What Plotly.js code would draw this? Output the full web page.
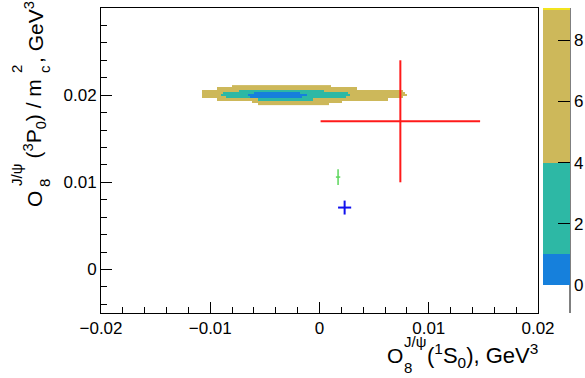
<!DOCTYPE html>
<html><head><meta charset="utf-8">
<script src="https://cdn.plot.ly/plotly-3.0.1.min.js"></script>
<style>html,body{margin:0;padding:0;background:#fff}#chart{width:585px;height:378px}</style>
</head><body><div id="chart"></div>
<script>
// ---- contour map: y-bin centres and x extents of each filled level ----
const rowY     = [0.021025, 0.020775, 0.020525, 0.020275, 0.020025, 0.019775, 0.019525, 0.019275, 0.019025];
const outerLo  = [-0.0080, -0.0093, -0.0108, -0.0108, -0.0108, -0.0108, -0.0093, -0.0062, -0.0055];
const outerHi  = [ 0.0011,  0.0034,  0.0076,  0.0078,  0.0080,  0.0076,  0.0062,  0.0021,  0.0009];
const midLo    = [null, null, -0.0073, -0.0088, -0.0090, -0.0086, -0.0055, null, null];
const midHi    = [null, null,  0.0003,  0.0026,  0.0028,  0.0023, -0.0006, null, null];
const innerLo  = [null, null, null, -0.0059, -0.0066, -0.0063, null, null, null];
const innerHi  = [null, null, null, -0.0018, -0.0012, -0.0016, null, null, null];
const xBinStart = -0.0112, xBinWidth = 0.0002, xBinCount = 100;
const levelZ = {inner: 0.5, mid: 2.5, outer: 6.5};
const zMin = 0, zMax = 9.05;
const levelEdges = [1, 4, 9];

// ---- measured points with errors ----
const ptX  = [0.0074, 0.0017, 0.0023];
const ptY  = [0.0170, 0.0106, 0.0071];
const ptEX = [0.0073, 0.0002, 0.0006];
const ptEY = [0.0070, 0.0009, 0.0008];
const ptColor = ['#ff1a1a', '#5cd65c', '#1010ee'];
const ptWidth = [2, 1.5, 2];

// ---- axis ticks ----
const xTicks = [-0.02, -0.01, 0, 0.01, 0.02];
const xTickText = ['\u22120.02', '\u22120.01', '0', '0.01', '0.02'];
const yTicks = [0, 0.01, 0.02, 0.03];
const yTickText = ['0', '0.01', '0.02', '0.03'];
const zTicks = [0, 2, 4, 6, 8];

const FONT = 'Liberation Sans, Arial, Helvetica, sans-serif';
const L = 101, R = 538, T = 8, B = 313;
const px2x = px => (px - L) / (R - L);
const py2y = py => (B - py) / (B - T);

const xc = [];
for (let i = 0; i < xBinCount; i++) xc.push(xBinStart + (i + 0.5) * xBinWidth);
const z = rowY.map((_, r) => xc.map(x => {
  if (innerLo[r] !== null && x >= innerLo[r] && x <= innerHi[r]) return levelZ.inner;
  if (midLo[r] !== null && x >= midLo[r] && x <= midHi[r]) return levelZ.mid;
  if (x >= outerLo[r] && x <= outerHi[r]) return levelZ.outer;
  return null;
}));
const t = v => (v - zMin) / (zMax - zMin);
const cBlue = '#1680dc', cTeal = '#2db8a5', cKhaki = '#cdb85a', cYellow = '#f2e41e';
const colorscale = [
  [0, cBlue], [t(levelEdges[0]), cBlue], [t(levelEdges[0]), cTeal], [t(levelEdges[1]), cTeal],
  [t(levelEdges[1]), cKhaki], [t(levelEdges[2]), cKhaki], [t(levelEdges[2]), cYellow], [1, cYellow]
];

const traces = [{
  type: 'heatmap', x: xc, y: rowY, z: z, zmin: zMin, zmax: zMax, zsmooth: false,
  colorscale: colorscale, hoverinfo: 'skip', showscale: true,
  colorbar: {
    x: px2x(543), xanchor: 'left', xref: 'paper', y: 1, yanchor: 'top',
    len: 277, lenmode: 'pixels', thickness: 27, thicknessmode: 'pixels',
    xpad: 0, ypad: 0, outlinewidth: 0, tickvals: zTicks, ticks: 'inside',
    ticklen: 12, tickwidth: 1, tickcolor: '#000',
    tickfont: {family: FONT, size: 17, color: '#000'}
  }
}];
for (let i = 0; i < ptX.length; i++) {
  traces.push({
    type: 'scatter', mode: 'markers', x: [ptX[i]], y: [ptY[i]],
    marker: {size: 1, color: ptColor[i], opacity: 0}, hoverinfo: 'skip', showlegend: false,
    error_x: {type: 'data', array: [ptEX[i]], width: 0, thickness: ptWidth[i], color: ptColor[i]},
    error_y: {type: 'data', array: [ptEY[i]], width: 0, thickness: ptWidth[i], color: ptColor[i]}
  });
}

const ann = (text, x, y, o) => Object.assign({
  text: text, x: x, y: y, xref: 'paper', yref: 'paper', showarrow: false,
  borderpad: 0, font: {family: FONT, size: 21, color: '#000'}
}, o || {});
const small = {family: FONT, size: 15, color: '#000'};
const big = {family: FONT, size: 22, color: '#000'};

const annotations = [
  // x-axis title
  ann('O', px2x(386), py2y(355.5), {xanchor: 'left', yanchor: 'middle'}),
  ann('J/\u03c8', px2x(403), py2y(341), {xanchor: 'left', yanchor: 'middle', font: small}),
  ann('8', px2x(403), py2y(367), {xanchor: 'left', yanchor: 'middle', font: small}),
  ann('(<sup>1</sup>S<sub>0</sub>), GeV<sup>3</sup>', px2x(426), py2y(355.5), {xanchor: 'left', yanchor: 'middle', font: big}),
  // y-axis title (rotated)
  ann('O', px2x(34), py2y(208), {xanchor: 'center', yanchor: 'bottom', textangle: -90}),
  ann('J/\u03c8', px2x(16), py2y(187), {xanchor: 'center', yanchor: 'bottom', textangle: -90, font: small}),
  ann('8', px2x(44), py2y(188), {xanchor: 'center', yanchor: 'bottom', textangle: -90, font: small}),
  ann('(<sup>3</sup>P<sub>0</sub>) / m', px2x(34), py2y(160), {xanchor: 'center', yanchor: 'bottom', textangle: -90}),
  ann('2', px2x(17), py2y(74), {xanchor: 'center', yanchor: 'bottom', textangle: -90, font: small}),
  ann('c', px2x(45), py2y(74), {xanchor: 'center', yanchor: 'bottom', textangle: -90, font: small}),
  ann(', GeV<sup>3</sup>', px2x(34), py2y(64), {xanchor: 'center', yanchor: 'bottom', textangle: -90})
];

const axisCommon = {
  showgrid: false, zeroline: false, showline: true, linecolor: '#000', linewidth: 1,
  mirror: true, ticks: 'inside', ticklen: 11, tickwidth: 1, tickcolor: '#000',
  tickfont: {family: FONT, size: 17, color: '#000'},
  minor: {ticks: 'inside', ticklen: 6, tickwidth: 1, tickcolor: '#000', showgrid: false}
};

const layout = {
  width: 585, height: 378,
  margin: {l: L, r: 585 - R, t: T, b: 378 - B, pad: 0, autoexpand: false},
  paper_bgcolor: '#fff', plot_bgcolor: '#fff', showlegend: false,
  xaxis: Object.assign({}, axisCommon, {range: [-0.02, 0.02], tickvals: xTicks, ticktext: xTickText,
    minor: Object.assign({}, axisCommon.minor, {dtick: 0.002, tick0: 0})}),
  yaxis: Object.assign({}, axisCommon, {range: [-0.005, 0.03], tickvals: yTicks, ticktext: yTickText,
    minor: Object.assign({}, axisCommon.minor, {dtick: 0.002, tick0: 0})}),
  annotations: annotations,
  shapes: [{type: 'line', xref: 'paper', yref: 'paper', x0: px2x(570), x1: px2x(570),
    y0: py2y(T), y1: py2y(B), line: {color: '#000', width: 1}}]
};

Plotly.newPlot('chart', traces, layout, {displayModeBar: false, staticPlot: true});
</script>
</body></html>
